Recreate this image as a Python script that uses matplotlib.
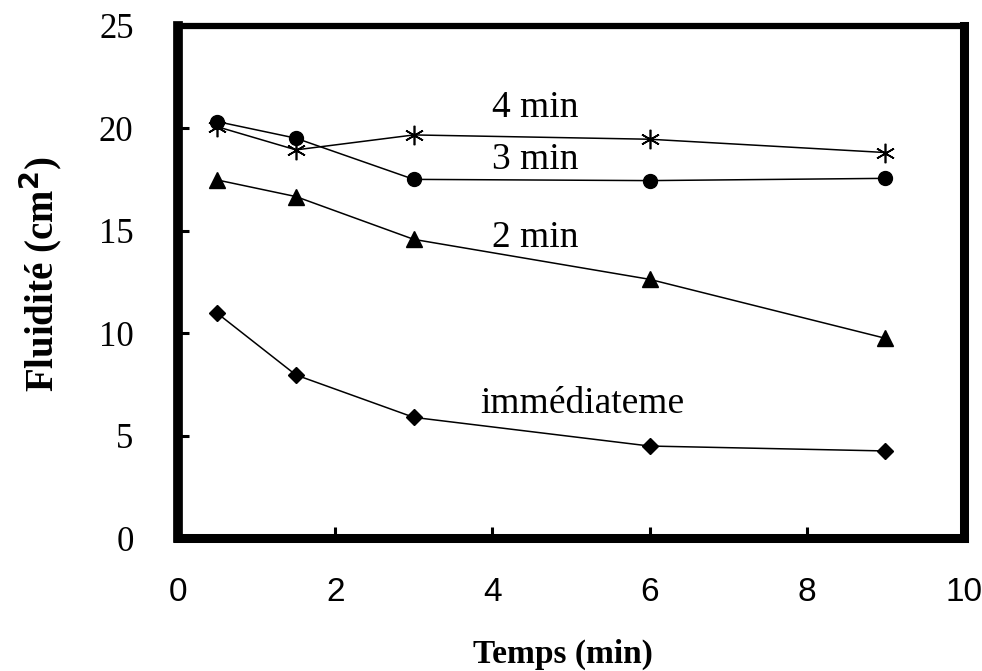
import matplotlib
matplotlib.use("Agg")
import matplotlib.pyplot as plt

# Temps de mesure (min)
temps = [0.5, 1.5, 3, 6, 9]

# Fluidité (cm²) selon le temps de malaxage
fluid_immediat = [10.97, 7.96, 5.89, 4.49, 4.25]
fluid_2min = [17.48, 16.67, 14.58, 12.63, 9.75]
fluid_3min = [20.33, 19.52, 17.51, 17.45, 17.56]
fluid_4min = [20.08, 18.95, 19.68, 19.47, 18.82]

x_ticks = [0, 2, 4, 6, 8, 10]
y_ticks = [0, 5, 10, 15, 20, 25]

serif = ["Liberation Serif", "DejaVu Serif"]
sans = ["Liberation Sans", "DejaVu Sans"]

fig = plt.figure(figsize=(9.82, 6.71), dpi=100)
ax = fig.add_axes([0.1813, 0.1982, 0.8004, 0.7631])

line_kw = dict(color="black", linewidth=1.1)
ax.plot(temps, fluid_immediat, marker="D", markersize=8, **line_kw)
ax.plot(temps, fluid_2min, marker="^", markersize=11, **line_kw)
ax.plot(temps, fluid_3min, marker="o", markersize=10, **line_kw)
ax.plot(temps, fluid_4min, marker=(6, 2, 0), markersize=14,
        markeredgewidth=1.2, **line_kw)

ax.set_xlim(0, 10)
ax.set_ylim(0, 25)
ax.set_xticks(x_ticks)
ax.set_yticks(y_ticks)
ax.set_xticklabels([str(v) for v in x_ticks], family=sans, fontsize=24)
ax.set_yticklabels([str(v) for v in y_ticks], family=serif, fontsize=25)
ax.tick_params(axis="both", direction="in", length=8, width=2.2,
               top=False, right=False)
ax.tick_params(axis="x", pad=28)
ax.tick_params(axis="y", pad=32)

for side, w in (("left", 7.0), ("bottom", 6.5), ("right", 6.5), ("top", 4.5)):
    ax.spines[side].set_linewidth(w)
    ax.spines[side].set_color("black")

ax.set_xlabel("Temps (min)", family=serif, fontsize=24, fontweight="bold")
ax.xaxis.set_label_coords(0.49, -0.228)
ax.xaxis.label.set_verticalalignment("center")
ax.set_ylabel("Fluidité (cm$^\\mathbf{2}$)", family=serif, fontsize=28,
              fontweight="bold")
ax.yaxis.set_label_coords(-0.176, 0.515)
ax.yaxis.label.set_verticalalignment("center")

txt_kw = dict(family=serif, fontsize=27, ha="center", va="center")
ax.text(4.54, 21.0, "4 min", **txt_kw)
ax.text(4.54, 18.46, "3 min", **txt_kw)
ax.text(4.54, 14.65, "2 min", **txt_kw)
ax.text(5.14, 6.54, "immédiateme", **txt_kw)

fig.savefig("out.png", dpi=100)
